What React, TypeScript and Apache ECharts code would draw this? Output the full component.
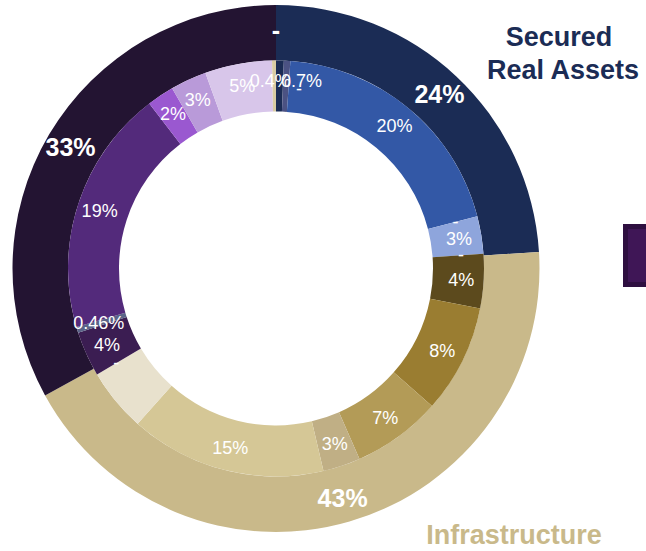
import React, { useEffect, useRef } from "react";
import * as echarts from "echarts";

// Outer ring (groups), clockwise from 12 o'clock
const outerNames = ["Secured Real Assets", "Infrastructure", "Other", "Zero"];
const outerValues = [24, 43, 33, 0];
const outerLabels = ["24%", "43%", "33%", "-"];
const outerColors = ["#1b2c55", "#c9b98a", "#231432", "#231432"];

// Inner ring (sub-categories), clockwise from 12 o'clock
const innerNames = [
  "SRA a", "SRA b", "SRA c", "SRA zero 1", "SRA d", "SRA zero 2",
  "Infra a", "Infra b", "Infra c", "Infra d", "Infra e", "Infra f", "Infra zero",
  "Other a", "Other b", "Other c", "Other d", "Other e", "Other f", "Other g",
];
const innerValues = [
  0.6, 0.5, 19.8, 0, 2.9, 0,
  4.2, 8.4, 6.9, 2.9, 15.2, 4.9, 0,
  3.5, 0.46, 19.05, 2.1, 2.8, 5.2, 0.3,
];
const innerLabels = [
  "0.7%", "-", "20%", "-", "3%", "-",
  "4%", "8%", "7%", "3%", "15%", "", "-",
  "4%", "0.46%", "19%", "2%", "3%", "5%", "0.4%",
];
const innerColors = [
  "#1b2c55", "#4b5283", "#3358a6", "#3358a6", "#8ea5dc", "#8ea5dc",
  "#5c4a1d", "#9a7d31", "#b39b57", "#c0af85", "#d5c796", "#e8e1cd", "#e8e1cd",
  "#3b1d52", "#5b6488", "#532a7b", "#9a58d0", "#b99ad9", "#d8c6ea", "#d8cca3",
];

const FONT = "'Liberation Sans', Arial, sans-serif";

export default function App() {
  const ref = useRef<HTMLDivElement>(null);

  useEffect(() => {
    if (!ref.current) return;
    const chart = echarts.init(ref.current, undefined, { renderer: "svg" });
    const center = [276, 268.5];

    chart.setOption({
      animation: false,
      backgroundColor: "#ffffff",
      series: [
        {
          type: "pie",
          silent: true,
          center,
          radius: [208, 263.5],
          startAngle: 90,
          clockwise: true,
          avoidLabelOverlap: false,
          itemStyle: { borderWidth: 0 },
          emphasis: { disabled: true },
          labelLine: { show: false },
          label: {
            show: true,
            position: "inside",
            color: "#ffffff",
            fontFamily: FONT,
            fontSize: 25,
            fontWeight: "bold",
            textBorderWidth: 0,
            formatter: (p: any) => outerLabels[p.dataIndex],
          },
          data: outerValues.map((v, i) => ({
            name: outerNames[i],
            value: v,
            itemStyle: { color: outerColors[i] },
          })),
        },
        {
          type: "pie",
          silent: true,
          center,
          radius: [157, 208],
          startAngle: 90,
          clockwise: true,
          avoidLabelOverlap: false,
          itemStyle: { borderWidth: 0 },
          emphasis: { disabled: true },
          labelLine: { show: false },
          label: {
            show: true,
            position: "inside",
            color: "#ffffff",
            fontFamily: FONT,
            fontSize: 18,
            textBorderWidth: 0,
            formatter: (p: any) => innerLabels[p.dataIndex],
          },
          labelLayout: (p: any) => {
            if (p.dataIndex === 0) return { dx: 22, dy: -2 };
            if (p.dataIndex === 1) return { dx: 13, dy: 6 };
            if (p.dataIndex === 19) return { dx: -4, dy: -2 };
            return {};
          },
          data: innerValues.map((v, i) => ({
            name: innerNames[i],
            value: v,
            itemStyle: { color: innerColors[i] },
          })),
        },
      ],
      graphic: [
        {
          type: "text",
          x: 559,
          y: 37,
          style: {
            text: "Secured",
            fill: "#1b2c55",
            font: `bold 27px ${FONT}`,
            align: "center",
            verticalAlign: "middle",
          },
        },
        {
          type: "text",
          x: 563,
          y: 70,
          style: {
            text: "Real Assets",
            fill: "#1b2c55",
            font: `bold 27px ${FONT}`,
            align: "center",
            verticalAlign: "middle",
          },
        },
        {
          type: "text",
          x: 514,
          y: 535,
          style: {
            text: "Infrastructure",
            fill: "#c9b98a",
            font: `bold 27px ${FONT}`,
            align: "center",
            verticalAlign: "middle",
          },
        },
        {
          type: "rect",
          shape: { x: 625.5, y: 226.5, width: 30, height: 58 },
          style: { fill: "#3f1656", stroke: "#2e0f40", lineWidth: 5 },
        },
      ],
    });

    return () => chart.dispose();
  }, []);

  return (
    <div
      ref={ref}
      style={{ position: "fixed", left: 0, top: 0, width: 646, height: 551 }}
    />
  );
}
